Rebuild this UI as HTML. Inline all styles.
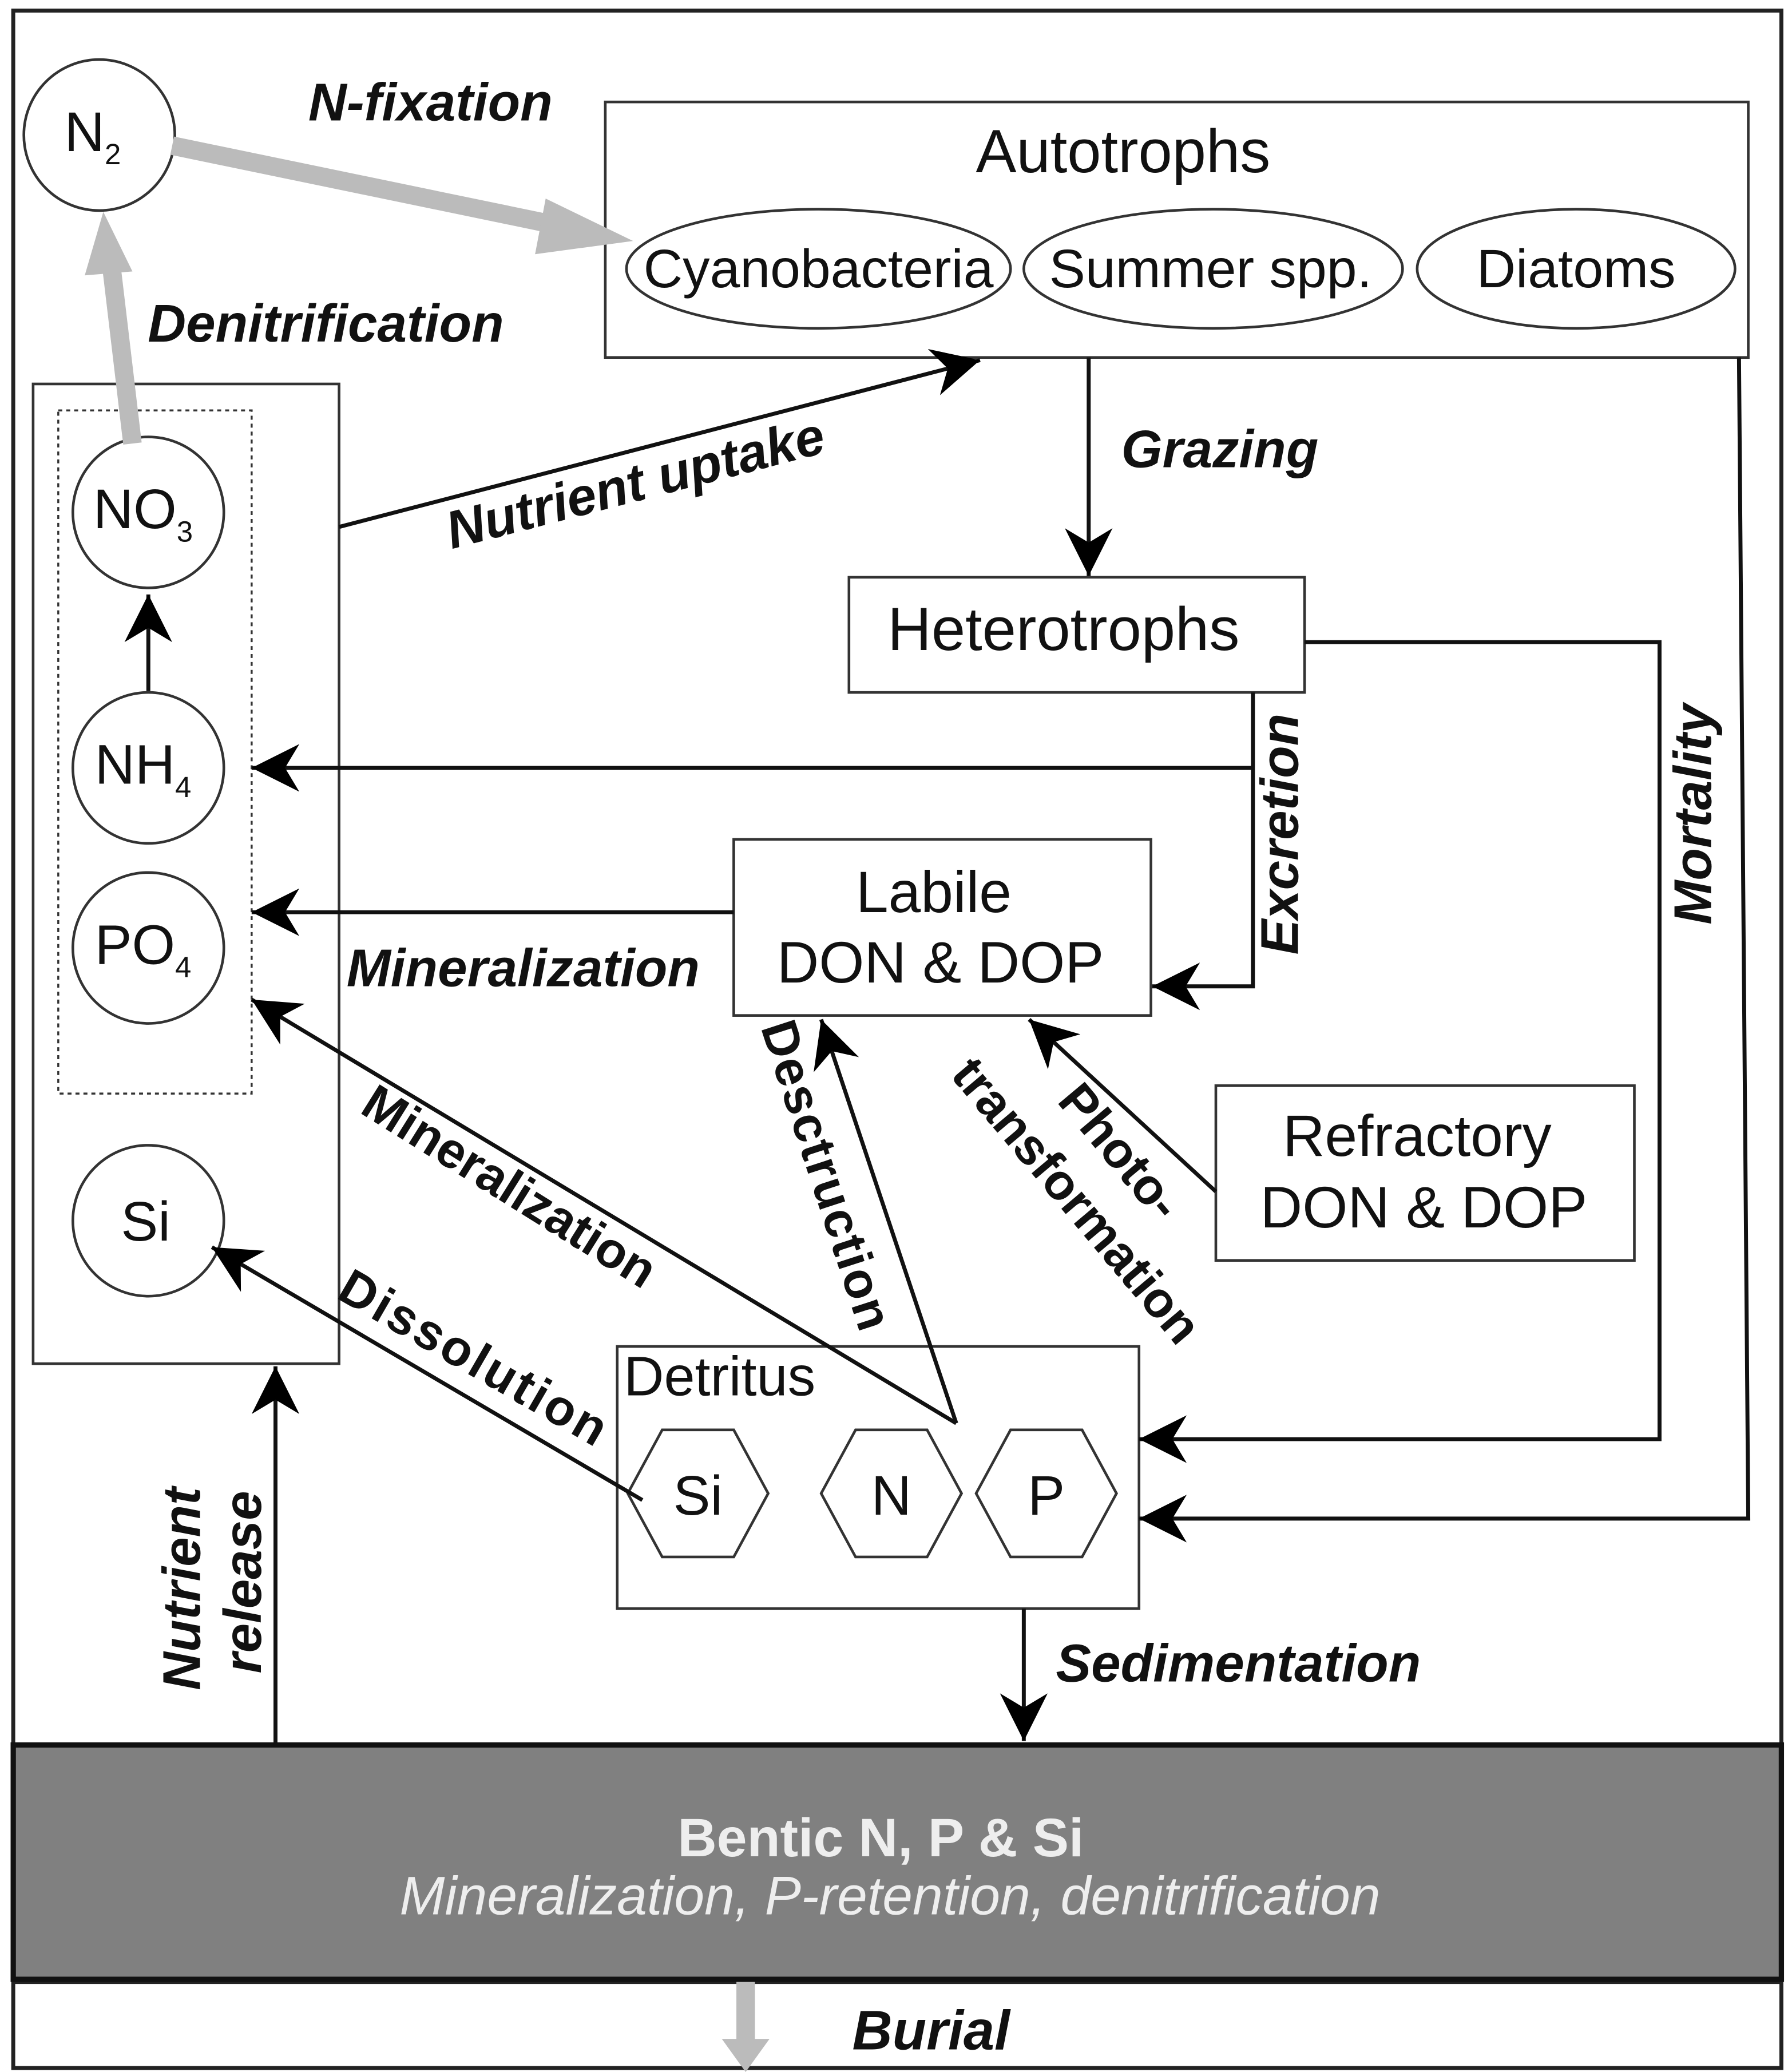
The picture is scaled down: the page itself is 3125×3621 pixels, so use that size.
<!DOCTYPE html>
<html><head><meta charset="utf-8"><style>html,body{margin:0;padding:0;background:#fff}svg{display:block}</style></head>
<body>
<svg width="3125" height="3621" viewBox="0 0 1350 1565" preserveAspectRatio="none" xmlns="http://www.w3.org/2000/svg" font-family="Liberation Sans, sans-serif">
<defs>
<marker id="ab" viewBox="0 0 10 10" refX="10" refY="5" markerWidth="36" markerHeight="36" markerUnits="userSpaceOnUse" orient="auto"><path d="M0,0 L10,5 L0,10 L3,5z" fill="#000"/></marker>
</defs>
<g fill="none" stroke="#222" stroke-width="2">
<rect x="10" y="8" width="1335" height="1310" stroke-width="3"/>
<rect x="10" y="1497" width="1335" height="65" stroke-width="3"/>
</g>
<rect x="10" y="1318" width="1335" height="177" fill="#808080" stroke="#111" stroke-width="4"/>
<g fill="none" stroke="#333" stroke-width="2">
<rect x="457" y="77" width="863" height="193"/>
<ellipse cx="618" cy="203" rx="145" ry="45"/>
<ellipse cx="916" cy="203" rx="143" ry="45"/>
<ellipse cx="1190" cy="203" rx="120" ry="45"/>
<circle cx="75" cy="102" r="57"/>
<rect x="25" y="290" width="231" height="740"/>
<rect x="44" y="310" width="146" height="516" stroke-dasharray="3,3" stroke-width="1.5"/>
<circle cx="112" cy="387" r="57"/>
<circle cx="112" cy="580" r="57"/>
<circle cx="112" cy="716" r="57"/>
<circle cx="112" cy="922" r="57"/>
<rect x="641" y="436" width="344" height="87"/>
<rect x="554" y="634" width="315" height="133"/>
<rect x="918" y="820" width="316" height="132"/>
<rect x="466" y="1017" width="394" height="198"/>
<polygon points="474,1128 500,1080 554,1080 580,1128 554,1176 500,1176"/>
<polygon points="620,1128 646,1080 700,1080 726,1128 700,1176 646,1176"/>
<polygon points="737,1128 763,1080 817,1080 843,1128 817,1176 763,1176"/>
</g>
<g stroke="#bbb" stroke-width="14" fill="none">
<line x1="130" y1="110" x2="420" y2="170"/>
<line x1="100" y1="335" x2="84" y2="200"/>
<line x1="563" y1="1497" x2="563" y2="1545"/>
</g>
<g fill="#bbb">
<polygon points="478,182 404,192 412,150"/>
<polygon points="78,160 100,205 64,208"/>
<polygon points="563,1565 545,1540 581,1540"/>
</g>
<g stroke="#111" stroke-width="3" fill="none">
<line x1="112" y1="522" x2="112" y2="449" marker-end="url(#ab)"/>
<line x1="256" y1="398" x2="740" y2="272" marker-end="url(#ab)"/>
<line x1="822" y1="270" x2="822" y2="435" marker-end="url(#ab)"/>
<polyline points="946,523 946,745 870,745" marker-end="url(#ab)"/>
<line x1="946" y1="580" x2="190" y2="580" marker-end="url(#ab)"/>
<polyline points="985,485 1253,485 1253,1087 860,1087" marker-end="url(#ab)"/>
<polyline points="1313,270 1320,1147 860,1147" marker-end="url(#ab)"/>
<line x1="554" y1="689" x2="190" y2="689" marker-end="url(#ab)"/>
<line x1="918" y1="900" x2="777" y2="770" marker-end="url(#ab)"/>
<line x1="722" y1="1075" x2="620" y2="770" marker-end="url(#ab)"/>
<line x1="722" y1="1075" x2="190" y2="755" marker-end="url(#ab)"/>
<line x1="485" y1="1133" x2="160" y2="942" marker-end="url(#ab)"/>
<line x1="208" y1="1318" x2="208" y2="1032" marker-end="url(#ab)"/>
<line x1="773" y1="1215" x2="773" y2="1315" marker-end="url(#ab)"/>
</g>
<g fill="#111" font-size="41" text-anchor="middle">
<text x="848" y="130" font-size="46">Autotrophs</text>
<text x="618" y="217">Cyanobacteria</text>
<text x="914" y="217">Summer spp.</text>
<text x="1190" y="217">Diatoms</text>
<text x="70" y="114" font-size="42">N<tspan font-size="22" dy="10">2</tspan></text>
<text x="108" y="399" font-size="42">NO<tspan font-size="22" dy="10">3</tspan></text>
<text x="108" y="592" font-size="42">NH<tspan font-size="22" dy="10">4</tspan></text>
<text x="108" y="728" font-size="42">PO<tspan font-size="22" dy="10">4</tspan></text>
<text x="110" y="937" font-size="42">Si</text>
<text x="803" y="491" font-size="46">Heterotrophs</text>
<text x="705" y="689" font-size="44">Labile</text>
<text x="710" y="742" font-size="44">DON &amp; DOP</text>
<text x="1070" y="873" font-size="44">Refractory</text>
<text x="1075" y="927" font-size="44">DON &amp; DOP</text>
<text x="471" y="1054" text-anchor="start" font-size="42">Detritus</text>
<text x="527" y="1144" font-size="42">Si</text>
<text x="673" y="1144" font-size="42">N</text>
<text x="790" y="1144" font-size="42">P</text>
</g>
<g fill="#111" font-size="40" font-weight="bold" font-style="italic" text-anchor="middle">
<text x="325" y="91">N-fixation</text>
<text x="246" y="258">Denitrification</text>
<text x="921" y="353">Grazing</text>
<text x="395" y="745">Mineralization</text>
<text x="935" y="1270">Sedimentation</text>
<text x="703" y="1548" font-size="42">Burial</text>
<text transform="translate(483,378) rotate(-14.5)">Nutrient uptake</text>
<text transform="translate(980,630) rotate(-90)">Excretion</text>
<text transform="translate(1292,615) rotate(-90)">Mortality</text>
<text transform="translate(151,1200) rotate(-90)">Nutrient</text>
<text transform="translate(197,1195) rotate(-90)">release</text>
</g>
<g fill="#111" font-size="38" font-weight="bold" text-anchor="middle">
<text transform="translate(378,907) rotate(32)">Mineralization</text>
<text transform="translate(352,1037) rotate(30)" letter-spacing="2">Dissolution</text>
<text transform="translate(612,892) rotate(72)" letter-spacing="1">Desctruction</text>
<text transform="translate(836,878) rotate(50)">Photo-</text>
<text transform="translate(803,915) rotate(50)">transformation</text>
</g>
<text x="665" y="1402" font-size="41" font-weight="bold" fill="#eee" text-anchor="middle">Bentic N, P &amp; Si</text>
<text x="672" y="1446" font-size="41" font-style="italic" fill="#eee" text-anchor="middle">Mineralization, P-retention, denitrification</text>
</svg>
</body></html>
